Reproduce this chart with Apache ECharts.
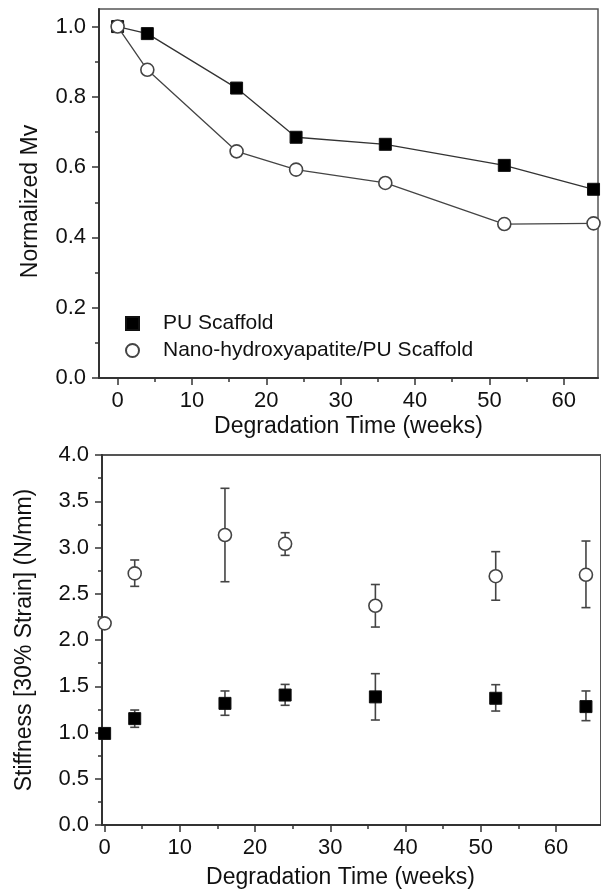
<!DOCTYPE html>
<html><head><meta charset="utf-8">
<script src="https://cdn.jsdelivr.net/npm/echarts@6/dist/echarts.min.js"></script>
<style>html,body{margin:0;padding:0;background:#fff}#c{width:601px;height:890px}</style>
</head><body><div id="c"></div>
<script>
// ---- data ----
const weeks = [0, 4, 16, 24, 36, 52, 64];
const mvPU = [1.0, 0.98, 0.825, 0.685, 0.665, 0.605, 0.537];
const mvNano = [1.0, 0.877, 0.645, 0.593, 0.555, 0.438, 0.44];
const stiffPU = [0.99, 1.15, 1.315, 1.405, 1.385, 1.37, 1.28];
const stiffPULow = [null, 1.056, 1.186, 1.294, 1.135, 1.232, 1.128];
const stiffPUHigh = [null, 1.243, 1.449, 1.52, 1.636, 1.517, 1.449];
const stiffNano = [2.18, 2.72, 3.135, 3.04, 2.37, 2.69, 2.705];
const stiffNanoLow = [null, 2.58, 2.63, 2.915, 2.14, 2.43, 2.35];
const stiffNanoHigh = [null, 2.865, 3.64, 3.16, 2.60, 2.955, 3.07];
const seriesNames = ['PU Scaffold', 'Nano-hydroxyapatite/PU Scaffold'];
const xTicks = [0, 10, 20, 30, 40, 50, 60];
const xMinorTicks = [5, 15, 25, 35, 45, 55];
const mvTicks = [0, 0.2, 0.4, 0.6, 0.8, 1.0];
const mvMinorTicks = [0.1, 0.3, 0.5, 0.7, 0.9];
const stiffTicks = [0, 0.5, 1.0, 1.5, 2.0, 2.5, 3.0, 3.5, 4.0];
const stiffMinorTicks = [0.25, 0.75, 1.25, 1.75, 2.25, 2.75, 3.25, 3.75];
const xTitle = 'Degradation Time (weeks)';
const mvTitle = 'Normalized Mv';
const stiffTitle = 'Stiffness [30% Strain] (N/mm)';

// ---- chart ----
const FONT = 'Liberation Sans, Arial, Helvetica, sans-serif';
const AX = '#333';
const chart = echarts.init(document.getElementById('c'), null, {renderer: 'canvas'});

function majorX(grid, min, max, nameGap, namePad) {
  return {
    type: 'value', gridIndex: grid, min: min, max: max, position: 'bottom',
    name: xTitle, nameLocation: 'middle', nameGap: nameGap,
    nameTextStyle: {fontFamily: FONT, fontSize: 23, color: '#111', padding: namePad},
    axisLine: {show: true, onZero: false, lineStyle: {color: AX, width: 2}},
    axisTick: {show: true, inside: false, length: 7, customValues: xTicks, lineStyle: {color: AX, width: 1.5}},
    axisLabel: {show: true, customValues: xTicks, fontFamily: FONT, fontSize: 22, color: '#111', margin: 12},
    splitLine: {show: false}
  };
}
function minorX(grid, min, max) {
  return {
    type: 'value', gridIndex: grid, min: min, max: max, position: 'bottom',
    axisLine: {show: false, onZero: false},
    axisTick: {show: true, inside: false, length: 4, customValues: xMinorTicks, lineStyle: {color: AX, width: 1.5}},
    axisLabel: {show: false},
    splitLine: {show: false}
  };
}
function majorY(grid, min, max, ticks, name, nameGap, namePad) {
  return {
    type: 'value', gridIndex: grid, min: min, max: max, position: 'left',
    name: name, nameLocation: 'middle', nameGap: nameGap,
    nameTextStyle: {fontFamily: FONT, fontSize: 23, color: '#111', padding: namePad},
    axisLine: {show: true, onZero: false, lineStyle: {color: AX, width: 2}},
    axisTick: {show: true, inside: false, length: 7, customValues: ticks, lineStyle: {color: AX, width: 1.5}},
    axisLabel: {show: true, customValues: ticks, fontFamily: FONT, fontSize: 22, color: '#111', margin: 13,
      formatter: v => Number(v).toFixed(1)},
    splitLine: {show: false}
  };
}
function minorY(grid, min, max, ticks) {
  return {
    type: 'value', gridIndex: grid, min: min, max: max, position: 'left',
    axisLine: {show: false, onZero: false},
    axisTick: {show: true, inside: false, length: 4, customValues: ticks, lineStyle: {color: AX, width: 1.5}},
    axisLabel: {show: false},
    splitLine: {show: false}
  };
}

function errorBarRender(params, api) {
  const x = api.value(0), lo = api.value(1), hi = api.value(2);
  const p1 = api.coord([x, lo]);
  const p2 = api.coord([x, hi]);
  const cw = 4.5;
  const st = {stroke: '#444', lineWidth: 1.6};
  return {type: 'group', children: [
    {type: 'line', shape: {x1: p1[0], y1: p1[1], x2: p2[0], y2: p2[1]}, style: st},
    {type: 'line', shape: {x1: p1[0] - cw, y1: p1[1], x2: p1[0] + cw, y2: p1[1]}, style: st},
    {type: 'line', shape: {x1: p2[0] - cw, y1: p2[1], x2: p2[0] + cw, y2: p2[1]}, style: st}
  ]};
}
function pairs(xs, ys) { return xs.map((x, i) => [x, ys[i]]); }
function bars(xs, lo, hi) {
  const out = [];
  xs.forEach((x, i) => { if (lo[i] != null && hi[i] != null) out.push([x, lo[i], hi[i]]); });
  return out;
}

const squareStyle = {color: '#000', borderColor: '#111', borderWidth: 1, opacity: 1};
const circleStyle = {color: '#fff', borderColor: '#444', borderWidth: 1.6, opacity: 1};

const option = {
  animation: false,
  backgroundColor: '#fff',
  textStyle: {fontFamily: FONT},
  grid: [
    {left: 99, top: 9, width: 499, height: 369, show: true, borderColor: '#555', borderWidth: 1.5, backgroundColor: 'transparent'},
    {left: 102, top: 455, width: 509, height: 370, show: true, borderColor: '#555', borderWidth: 2, backgroundColor: 'transparent'}
  ],
  xAxis: [
    majorX(0, -2.5, 64.6, 37, [0, 0, 0, 0]),
    minorX(0, -2.5, 64.6),
    majorX(1, -0.35, 66, 41, [0, 22, 0, 0]),
    minorX(1, -0.35, 66)
  ],
  yAxis: [
    majorY(0, 0, 1.05, mvTicks, mvTitle, 57, [0, 16, 0, 0]),
    minorY(0, 0, 1.05, mvMinorTicks),
    majorY(1, 0, 4.0, stiffTicks, stiffTitle, 66, [0, 0, 0, 0]),
    minorY(1, 0, 4.0, stiffMinorTicks)
  ],
  legend: {
    data: [{name: seriesNames[0], icon: 'rect'}, {name: seriesNames[1], icon: 'circle'}],
    orient: 'vertical', left: 120, top: 308,
    itemWidth: 13, itemHeight: 13, itemGap: 6,
    selectedMode: false,
    textStyle: {fontFamily: FONT, fontSize: 21, color: '#111', padding: [0, 0, 0, 19]}
  },
  series: [
    {name: seriesNames[0], type: 'line', xAxisIndex: 0, yAxisIndex: 0, data: pairs(weeks, mvPU),
      symbol: 'rect', symbolSize: 12, itemStyle: squareStyle,
      lineStyle: {color: '#333', width: 1.3}, z: 3, emphasis: {disabled: true}},
    {name: seriesNames[1], type: 'line', xAxisIndex: 0, yAxisIndex: 0, data: pairs(weeks, mvNano),
      symbol: 'circle', symbolSize: 13, itemStyle: circleStyle,
      lineStyle: {color: '#444', width: 1.3}, z: 4, emphasis: {disabled: true}},
    {name: seriesNames[0] + ' error', type: 'custom', xAxisIndex: 2, yAxisIndex: 2,
      data: bars(weeks, stiffPULow, stiffPUHigh), renderItem: errorBarRender, z: 2, silent: true},
    {name: seriesNames[1] + ' error', type: 'custom', xAxisIndex: 2, yAxisIndex: 2,
      data: bars(weeks, stiffNanoLow, stiffNanoHigh), renderItem: errorBarRender, z: 2, silent: true},
    {name: seriesNames[0], type: 'scatter', xAxisIndex: 2, yAxisIndex: 2, data: pairs(weeks, stiffPU),
      symbol: 'rect', symbolSize: 12, itemStyle: squareStyle, z: 4, emphasis: {disabled: true}},
    {name: seriesNames[1], type: 'scatter', xAxisIndex: 2, yAxisIndex: 2, data: pairs(weeks, stiffNano),
      symbol: 'circle', symbolSize: 13, itemStyle: circleStyle, z: 4, emphasis: {disabled: true}}
  ]
};
chart.setOption(option);
</script>
</body></html>
